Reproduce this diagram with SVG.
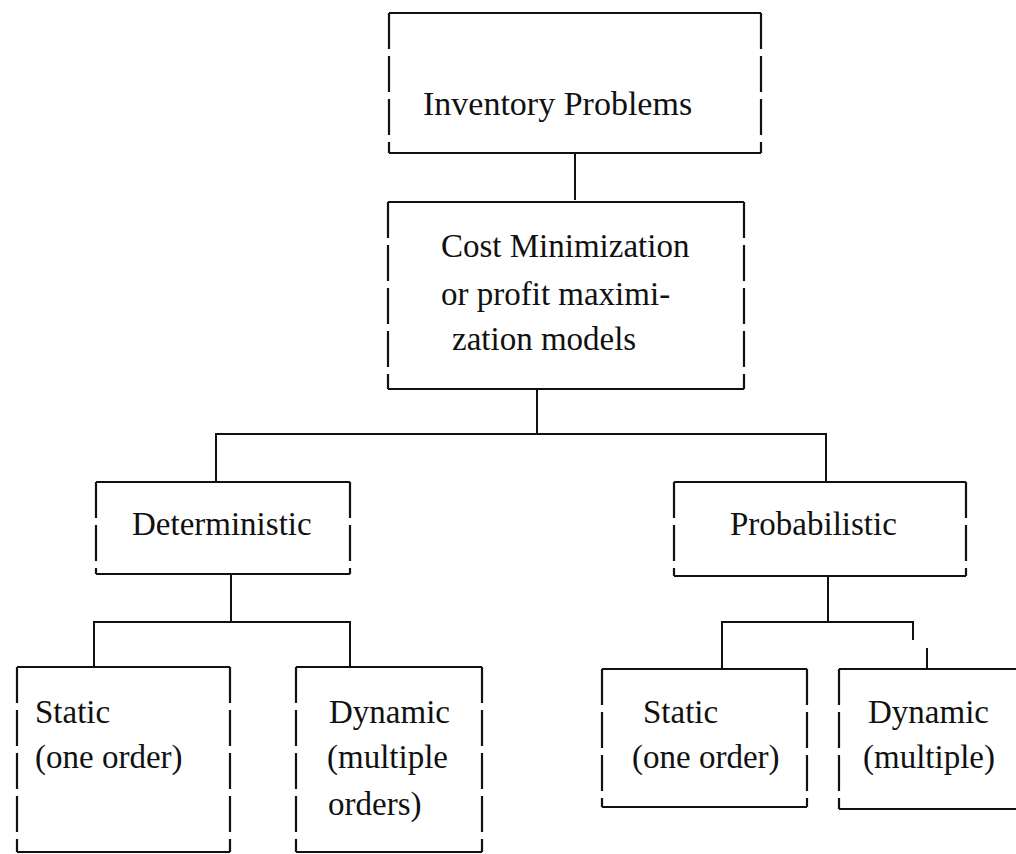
<svg xmlns="http://www.w3.org/2000/svg" width="1016" height="854" viewBox="0 0 1016 854">
<style>
.h{fill:none;stroke:#111;stroke-width:2.2}
.v{fill:none;stroke:#111;stroke-width:2.2;stroke-dasharray:36 7}
.c{fill:none;stroke:#111;stroke-width:2}
text{font-family:"Liberation Serif","Times New Roman",serif;font-size:33px;fill:#111}
</style>
<rect width="1016" height="854" fill="#fff"/>
<g id="connectors">
<path class="c" d="M575 153V200"/>
<path class="c" d="M537 389V434"/>
<path class="c" d="M216 482V434H826V482"/>
<path class="c" d="M231 574V622"/>
<path class="c" d="M94 667V622H350V667"/>
<path class="c" d="M828 576V622"/>
<path class="c" d="M722 669V622H913V640M927 648V669"/>
</g>
<g id="inventory">
<path class="h" d="M389 13H761M389 153H761"/>
<path class="v" d="M389 13V153M761 13V153"/>
<text x="423" y="115" style="font-size:34px">Inventory Problems</text>
</g>
<g id="cost">
<path class="h" d="M388 202H744M388 389H744"/>
<path class="v" d="M388 202V389M744 202V389"/>
<text x="441" y="257">Cost Minimization</text>
<text x="441" y="305">or profit maximi-</text>
<text x="452" y="350">zation models</text>
</g>
<g id="deterministic">
<path class="h" d="M96 482H350M96 574H350"/>
<path class="v" d="M96 482V574M350 482V574"/>
<text x="132" y="535">Deterministic</text>
</g>
<g id="probabilistic">
<path class="h" d="M674 482H966M674 576H966"/>
<path class="v" d="M674 482V576M966 482V576"/>
<text x="730" y="535">Probabilistic</text>
</g>
<g id="det-static">
<path class="h" d="M17 667H230M17 852H230"/>
<path class="v" d="M17 667V852M230 667V852"/>
<text x="35" y="723">Static</text>
<text x="35" y="768">(one order)</text>
</g>
<g id="det-dynamic">
<path class="h" d="M296 667H482M296 852H482"/>
<path class="v" d="M296 667V852M482 667V852"/>
<text x="329" y="723">Dynamic</text>
<text x="327" y="768">(multiple</text>
<text x="328" y="815">orders)</text>
</g>
<g id="prob-static">
<path class="h" d="M602 669H807M602 807H807"/>
<path class="v" d="M602 669V807M807 669V807"/>
<text x="643" y="723">Static</text>
<text x="632" y="768">(one order)</text>
</g>
<g id="prob-dynamic">
<path class="h" d="M839 669H1016M839 809H1016"/>
<path class="v" d="M839 669V809"/>
<text x="868" y="723">Dynamic</text>
<text x="863" y="768">(multiple)</text>
</g>
</svg>
